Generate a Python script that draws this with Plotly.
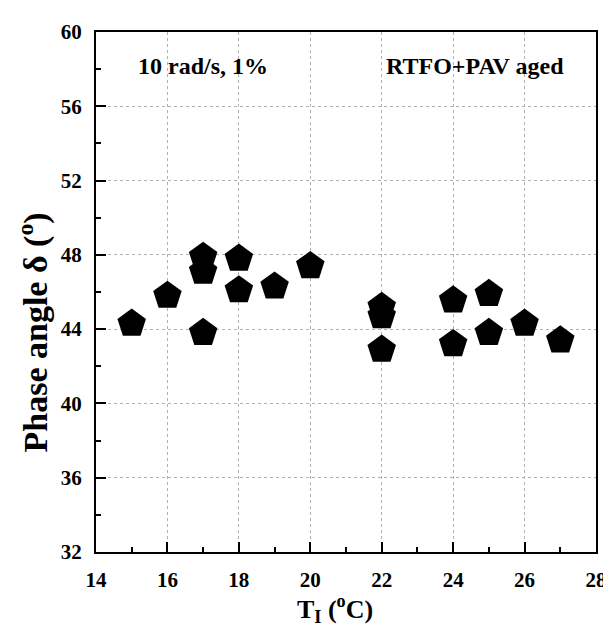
import plotly.graph_objects as go

temps = [15, 16, 17, 17, 17, 18, 18, 19, 20, 22, 22, 22, 24, 24, 25, 25, 26, 27]
phase = [44.3, 45.8, 47.9, 47.1, 43.8, 47.8, 46.1, 46.3, 47.4, 45.2, 44.7, 42.9,
         45.55, 43.2, 45.9, 43.8, 44.3, 43.4]

x_ticks = [14, 16, 18, 20, 22, 24, 26, 28]
y_ticks = [32, 36, 40, 44, 48, 52, 56, 60]

FONT = "Liberation Serif"

fig = go.Figure()
fig.add_trace(go.Scatter(
    x=temps, y=phase, mode="markers",
    marker=dict(symbol="pentagon", size=30, color="black",
                line=dict(width=0)),
    showlegend=False, cliponaxis=False,
))

axis_common = dict(
    showline=True, linecolor="black", linewidth=2, mirror=True,
    ticks="inside", ticklen=10, tickwidth=2, tickcolor="black",
    showgrid=True, gridcolor="#b0b0b0", griddash="dot", gridwidth=1,
    zeroline=False,
    tickfont=dict(family=FONT, size=21, color="black", weight="bold"),
)

fig.update_xaxes(range=[14, 28], tickvals=x_ticks, ticktext=[str(v) for v in x_ticks],
                 minor=dict(dtick=1, ticks="inside", ticklen=5, tickwidth=2,
                            tickcolor="black", showgrid=False),
                 ticklabelstandoff=8, **axis_common)
fig.update_yaxes(range=[32, 60], tickvals=y_ticks, ticktext=[str(v) for v in y_ticks],
                 minor=dict(dtick=2, ticks="inside", ticklen=5, tickwidth=2,
                            tickcolor="black", showgrid=False),
                 ticklabelstandoff=8, **axis_common)

fig.add_annotation(text="10 rad/s, 1%", xref="paper", yref="paper",
                   x=(129 - 88) / 510, y=1 - (55 - 21) / 523,
                   xanchor="left", yanchor="middle", showarrow=False,
                   font=dict(family=FONT, size=24, color="black", weight="bold"))
fig.add_annotation(text="RTFO+PAV aged", xref="paper", yref="paper",
                   x=(567 - 88) / 510, y=1 - (55 - 21) / 523,
                   xanchor="right", yanchor="middle", showarrow=False,
                   font=dict(family=FONT, size=24, color="black", weight="bold"))
fig.add_annotation(text="T<sub>I</sub> (<sup>o</sup>C)", xref="paper", yref="paper",
                   x=(332 - 88) / 510, y=1 - (601 - 21) / 523,
                   xanchor="center", yanchor="middle", showarrow=False,
                   font=dict(family=FONT, size=26, color="black", weight="bold"))
fig.add_annotation(text="Phase angle δ (<sup>o</sup>)", xref="paper", yref="paper",
                   x=(24 - 88) / 510, y=1 - (323 - 21) / 523,
                   xanchor="center", yanchor="middle", showarrow=False, textangle=-90,
                   font=dict(family=FONT, size=34, color="black", weight="bold"))

fig.update_layout(
    width=611, height=629,
    margin=dict(l=88, r=13, t=21, b=85),
    paper_bgcolor="white", plot_bgcolor="white",
)

fig.write_html("out.html")
